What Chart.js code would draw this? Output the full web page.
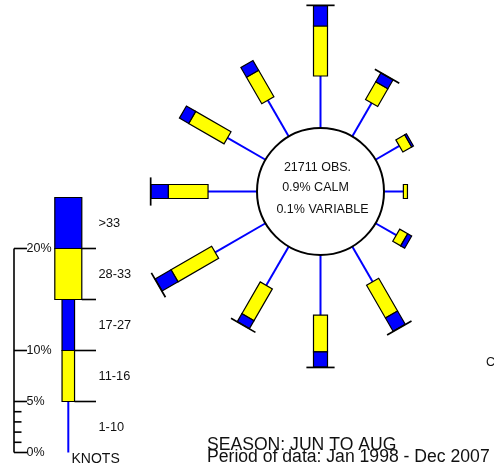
<!DOCTYPE html>
<html><head><meta charset="utf-8">
<script src="https://cdn.jsdelivr.net/npm/chart.js@4/dist/chart.umd.min.js"></script>
<style>html,body{margin:0;padding:0;background:#fff}canvas{display:block}</style>
</head><body>
<canvas id="c" width="494" height="470"></canvas>
<script>
// ---------- DATA ----------
const directionsDeg = [0, 30, 60, 90, 120, 150, 180, 210, 240, 270, 300, 330];
const pct1to10  = [5.1, 3.8, 2.7, 1.9, 2.35, 4.0, 5.9, 4.4, 5.7, 4.8, 4.3, 4.1];
const pct11to16 = [4.9, 2.0, 1.0, 0.4, 0.9, 3.7, 3.6, 3.6, 4.6, 3.9, 4.0, 3.0];
const pct17to27 = [2.0, 1.0, 0.2, 0, 0.45, 1.5, 1.5, 0.9, 1.8, 1.7, 1.05, 1.1];
const pct28to33 = [0.05, 0.05, 0, 0, 0, 0.05, 0.05, 0.05, 0.05, 0.05, 0, 0];
const pctOver33 = [0, 0, 0, 0, 0, 0, 0, 0, 0, 0, 0, 0];
const speedLabels = ['1-10', '11-16', '17-27', '28-33', '>33'];
const legendPct = [5, 5, 5, 5, 5];
const legendTickValues = [0, 1, 2, 3, 4, 5, 10, 20];
const legendTickLabels = ['0%', '', '', '', '', '5%', '10%', '20%'];
const totalObs = 21711;
const calmPct = 0.9;
const variablePct = 0.1;
const seasonText = 'SEASON: JUN TO AUG';
const periodText = 'Period of data: Jan 1998 - Dec 2007';

// ---------- LAYOUT / STYLE ----------
const W = 494, H = 470, K = 10.2;          // px per percent
const CX = 320.5, CY = 191.5;              // rose centre (px)
const CIRCLE_R = 6.225;                    // centre circle radius in percent units
const LEG_ZERO_Y = 452.5, LEG_X = 68.3;
const YELLOW = '#ffff00', BLUE = '#0000ff';
const FONT = '"Liberation Sans", Arial, sans-serif';
const segColors = [null, YELLOW, BLUE, YELLOW, BLUE];
const roseWidths = [0, 14, 14, 27, 27];
const legWidths = [0, 12.5, 12.5, 27, 27];

const rad = d => d * Math.PI / 180;
const series = [pct1to10, pct11to16, pct17to27, pct28to33, pctOver33];

const stemDatasets = directionsDeg.map((deg, i) => {
  const s = Math.sin(rad(deg)), c = Math.cos(rad(deg));
  const r0 = CIRCLE_R, r1 = CIRCLE_R + pct1to10[i];
  return {
    type: 'line', data: [{x: r0 * s, y: r0 * c}, {x: r1 * s, y: r1 * c}],
    borderColor: BLUE, borderWidth: 2, pointRadius: 0, showLine: true, fill: false
  };
});

function quad(ctx, p0, p1, dir, w, fill) {
  const nx = -dir.y * w / 2, ny = dir.x * w / 2;
  ctx.beginPath();
  ctx.moveTo(p0.x + nx, p0.y + ny);
  ctx.lineTo(p1.x + nx, p1.y + ny);
  ctx.lineTo(p1.x - nx, p1.y - ny);
  ctx.lineTo(p0.x - nx, p0.y - ny);
  ctx.closePath();
  ctx.fillStyle = fill; ctx.fill();
  ctx.lineWidth = 1.2; ctx.strokeStyle = '#000'; ctx.stroke();
}

const rosePlugin = {
  id: 'rose',
  afterDatasetsDraw(chart) {
    const ctx = chart.ctx, xs = chart.scales.x, ys = chart.scales.y, ly = chart.scales.ly;
    const px = (r, deg) => ({x: xs.getPixelForValue(r * Math.sin(rad(deg))), y: ys.getPixelForValue(r * Math.cos(rad(deg)))});
    ctx.save();
    // centre circle
    const c0 = px(0, 0), ce = px(CIRCLE_R, 90);
    ctx.beginPath(); ctx.arc(c0.x, c0.y, ce.x - c0.x, 0, Math.PI * 2);
    ctx.lineWidth = 2; ctx.strokeStyle = '#000'; ctx.stroke();
    // bars
    directionsDeg.forEach((deg, i) => {
      const a = px(CIRCLE_R, deg), b = px(CIRCLE_R + 10, deg);
      const L = Math.hypot(b.x - a.x, b.y - a.y);
      const dir = {x: (b.x - a.x) / L, y: (b.y - a.y) / L};
      let cum = CIRCLE_R + series[0][i];
      for (let j = 1; j < series.length; j++) {
        const v = series[j][i];
        if (v > 0) quad(ctx, px(cum, deg), px(cum + v, deg), dir, roseWidths[j], segColors[j]);
        cum += v;
      }
    });
    // centre texts
    ctx.fillStyle = '#111'; ctx.textAlign = 'center'; ctx.textBaseline = 'middle';
    ctx.font = '12.5px ' + FONT;
    ctx.fillText(totalObs + ' OBS.', c0.x - 3, c0.y - 24);
    ctx.fillText(calmPct.toFixed(1) + '% CALM', c0.x - 5, c0.y - 3.5);
    ctx.fillText(variablePct.toFixed(1) + '% VARIABLE', c0.x + 2, c0.y + 18);

    // ---- legend ----
    const lp = v => ly.getPixelForValue(v);
    ctx.strokeStyle = '#000'; ctx.lineWidth = 1.6;
    ctx.beginPath(); ctx.moveTo(14, lp(0)); ctx.lineTo(14, lp(legendTickValues[legendTickValues.length - 1])); ctx.stroke();
    ctx.textAlign = 'left'; ctx.textBaseline = 'middle'; ctx.font = '12.5px ' + FONT; ctx.fillStyle = '#111';
    legendTickValues.forEach((v, k) => {
      const y = lp(v), major = legendTickLabels[k] !== '';
      ctx.beginPath(); ctx.moveTo(14, y); ctx.lineTo(major ? 27 : 21.5, y); ctx.stroke();
      if (major) ctx.fillText(legendTickLabels[k], 26.5, y);
    });
    let cum = 0;
    ctx.strokeStyle = BLUE; ctx.lineWidth = 2;
    ctx.beginPath(); ctx.moveTo(LEG_X, lp(0)); ctx.lineTo(LEG_X, lp(legendPct[0])); ctx.stroke();
    cum = legendPct[0];
    const up = {x: 0, y: -1};
    for (let j = 1; j < legendPct.length; j++) {
      quad(ctx, {x: LEG_X, y: lp(cum)}, {x: LEG_X, y: lp(cum + legendPct[j])}, up, legWidths[j], segColors[j]);
      cum += legendPct[j];
    }
    // boundary ticks
    ctx.strokeStyle = '#000'; ctx.lineWidth = 1.6;
    cum = 0;
    for (let j = 0; j < legendPct.length - 1; j++) {
      cum += legendPct[j];
      const w = Math.max(legWidths[j], legWidths[j + 1]);
      ctx.beginPath(); ctx.moveTo(LEG_X + w / 2, lp(cum)); ctx.lineTo(96, lp(cum)); ctx.stroke();
    }
    ctx.fillStyle = '#111'; ctx.font = '12.8px ' + FONT;
    cum = 0;
    legendPct.forEach((v, j) => {
      ctx.fillText(speedLabels[j], 98.5, lp(cum + v / 2));
      cum += v;
    });
    ctx.font = '14px ' + FONT;
    ctx.fillText('KNOTS', 71.5, 459.5);

    // bottom texts
    ctx.textBaseline = 'alphabetic'; ctx.font = '17.6px ' + FONT;
    ctx.fillText(seasonText, 207, 450);
    ctx.fillText(periodText, 207, 462);
    ctx.font = '12.5px ' + FONT; ctx.textBaseline = 'middle';
    ctx.fillText('C', 486, 363);
    ctx.restore();
  }
};

new Chart(document.getElementById('c'), {
  type: 'scatter',
  data: {datasets: stemDatasets},
  options: {
    responsive: false, animation: false, devicePixelRatio: 1,
    layout: {padding: 0},
    plugins: {legend: {display: false}, tooltip: {enabled: false}, title: {display: false}},
    events: [],
    scales: {
      x: {type: 'linear', display: false, min: -CX / K, max: (W - CX) / K},
      y: {type: 'linear', display: false, min: -(H - CY) / K, max: CY / K},
      ly: {type: 'linear', axis: 'y', position: 'left', display: false, min: -(H - LEG_ZERO_Y) / K, max: LEG_ZERO_Y / K}
    }
  },
  plugins: [rosePlugin]
});
</script>
</body></html>
